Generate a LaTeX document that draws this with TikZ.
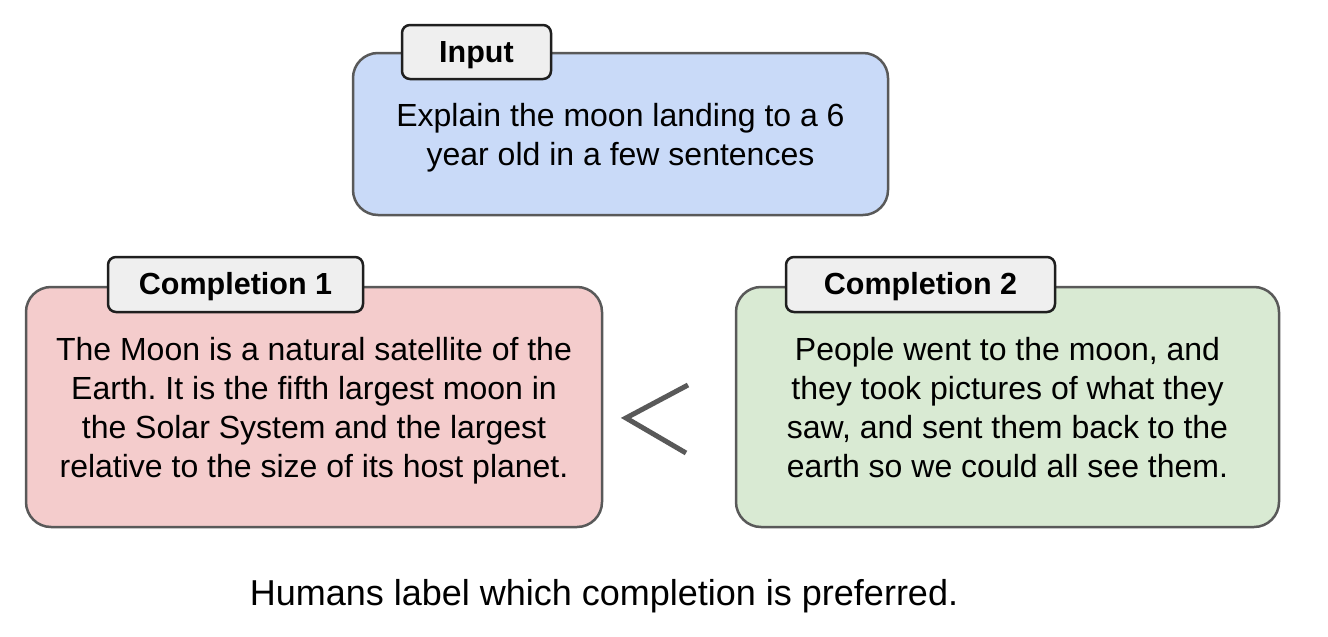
\documentclass[tikz,border=0pt]{standalone}
\usepackage{fontspec}
\setmainfont{Liberation Sans}
\begin{document}
\frenchspacing
\begin{tikzpicture}[x=1pt,y=-1pt,
  bigbox/.style={draw=boxline, line width=2.5pt, rounded corners=25pt, inner sep=0pt},
  bodytext/.style={align=center, font=\fontsize{32}{39}\selectfont, inner sep=0pt, yshift=-4pt},
  tagbox/.style={draw=tagline, fill=tagfill, line width=2.5pt, rounded corners=8pt,
    font=\fontsize{30.5}{34}\selectfont\bfseries, inner sep=0pt, text height=24pt, text depth=4pt},
  lessthan/.style={draw=boxline, line width=5pt}
]
\definecolor{boxline}{HTML}{595959}
\definecolor{tagline}{HTML}{1F1F1F}
\definecolor{tagfill}{HTML}{EFEFEF}
\definecolor{bluefill}{HTML}{C9DAF8}
\definecolor{redfill}{HTML}{F4CCCC}
\definecolor{greenfill}{HTML}{D9EAD3}
\useasboundingbox[fill=white] (0,0) rectangle (1328,637);

\node[bigbox, fill=bluefill, minimum width=535pt, minimum height=162pt] (inp) at (620.5,134) {};
\node[bodytext] (inptext) at (inp.center)
  {Explain the moon landing to a 6\\year old in a few sentences};
\node[tagbox, minimum width=149pt, minimum height=54pt] (inptag) at (476.5,52) {Input};

\node[bigbox, fill=redfill, minimum width=576pt, minimum height=240pt] (c1) at (314,407) {};
\node[bodytext] (c1text) at (c1.center)
  {The Moon is a natural satellite of the\\Earth. It is the fifth largest moon in\\the Solar System and the largest\\relative to the size of its host planet.};
\node[tagbox, minimum width=255pt, minimum height=55pt] (c1tag) at (235.5,284.5) {Completion 1};

\node[bigbox, fill=greenfill, minimum width=543pt, minimum height=240pt] (c2) at (1007.5,407) {};
\node[bodytext, yshift=3pt] (c2text) at (c2.center)
  {People went to the moon, and\\they took pictures of what they\\saw, and sent them back to the\\earth so we could all see them.};
\node[tagbox, minimum width=269pt, minimum height=55pt] (c2tag) at (920.5,284.5) {Completion 2};

\coordinate (lta) at (688,385);
\coordinate (ltb) at (626,418);
\coordinate (ltc) at (686,453);
\draw[lessthan] (lta) -- (ltb) -- (ltc);

\node[font=\fontsize{36}{42}\selectfont, yshift=-3pt] (caption) at (604,593) {Humans label which completion is preferred.};
\end{tikzpicture}
\end{document}
